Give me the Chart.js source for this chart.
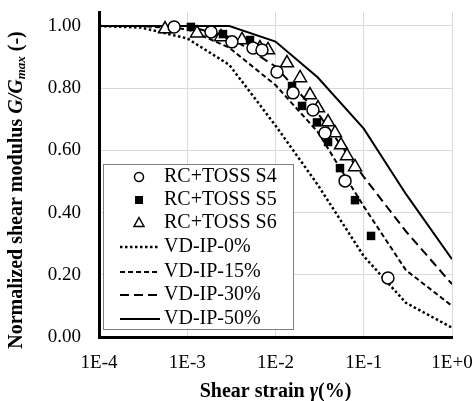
<!DOCTYPE html>
<html>
<head>
<meta charset="utf-8">
<script src="https://cdn.jsdelivr.net/npm/chart.js@4.4.0/dist/chart.umd.min.js"></script>
<style>
  html, body { margin: 0; padding: 0; background: #fff; }
  #wrap { width: 473px; height: 401px; position: relative; }
</style>
</head>
<body>
<div id="wrap"><canvas id="chart"></canvas></div>
<script>
// Vucetic-Dobry reference curves, strain in %
const strainVD = [0.0001, 0.0003, 0.001, 0.003, 0.01, 0.03, 0.1, 0.3, 1];
const vdIP0  = [1.00, 0.995, 0.96, 0.875, 0.68, 0.49, 0.26, 0.11, 0.03];
const vdIP15 = [1.00, 1.00, 0.99, 0.93, 0.81, 0.66, 0.42, 0.215, 0.10];
const vdIP30 = [1.00, 1.00, 1.00, 0.965, 0.87, 0.72, 0.515, 0.34, 0.17];
const vdIP50 = [1.00, 1.00, 1.00, 1.00, 0.95, 0.835, 0.67, 0.46, 0.25];

// RC + TOSS test results
const s4Strain = [0.00071, 0.00186, 0.00321, 0.00556, 0.00703, 0.0104, 0.0158, 0.0266, 0.0364, 0.0614, 0.188];
const s4G      = [0.997, 0.981, 0.949, 0.929, 0.923, 0.852, 0.785, 0.730, 0.656, 0.502, 0.190];
const s5Strain = [0.00110, 0.00254, 0.00514, 0.0154, 0.0200, 0.0295, 0.0394, 0.0538, 0.0796, 0.121];
const s5G      = [0.997, 0.974, 0.955, 0.807, 0.743, 0.690, 0.627, 0.543, 0.440, 0.325];
const s6Strain = [0.00056, 0.00129, 0.00241, 0.00417, 0.00667, 0.00822, 0.0135, 0.0190, 0.0246, 0.0303, 0.0394, 0.0472, 0.0552, 0.0646, 0.0796];
const s6G      = [0.990, 0.977, 0.965, 0.955, 0.929, 0.923, 0.881, 0.833, 0.778, 0.736, 0.691, 0.656, 0.617, 0.582, 0.547];

const xTickValues = [1e-4, 1e-3, 1e-2, 1e-1, 1];
const xTickLabels = ['1E-4', '1E-3', '1E-2', '1E-1', '1E+0'];
const yTickValues = [0, 0.2, 0.4, 0.6, 0.8, 1.0];

const SERIF = "'Liberation Serif', 'Times New Roman', serif";

function toPoints(xs, ys) {
    return xs.map((x, i) => ({ x: x, y: ys[i] }));
}

function markerSet(label, xs, ys, style, radius, fill) {
    return {
        label: label,
        data: toPoints(xs, ys),
        showLine: false,
        pointStyle: style,
        pointRadius: radius,
        pointBorderWidth: fill === '#000' ? 0 : 1.5,
        pointBorderColor: '#000',
        pointBackgroundColor: fill
    };
}

function curveSet(label, ys, dash, width) {
    return {
        label: label,
        data: toPoints(strainVD, ys),
        showLine: true,
        borderColor: '#000',
        borderWidth: width,
        borderDash: dash,
        pointRadius: 0,
        tension: 0,
        fill: false
    };
}

const datasets = [
    markerSet('RC+TOSS S4', s4Strain, s4G, 'circle', 6, '#fff'),
    markerSet('RC+TOSS S5', s5Strain, s5G, 'rect', 6, '#000'),
    markerSet('RC+TOSS S6', s6Strain, s6G, 'triangle', 7.5, '#fff'),
    curveSet('VD-IP-0%', vdIP0, [2.5, 2.5], 2.5),
    curveSet('VD-IP-15%', vdIP15, [5, 3], 2),
    curveSet('VD-IP-30%', vdIP30, [9, 5], 2),
    curveSet('VD-IP-50%', vdIP50, [], 2)
];

// draws a run of text pieces with different fonts, starting at x
function drawRich(ctx, parts, x, y) {
    parts.forEach(p => {
        ctx.font = p.font;
        ctx.fillText(p.text, x, y + (p.dy || 0));
        x += ctx.measureText(p.text).width;
    });
}

function richWidth(ctx, parts) {
    return parts.reduce((w, p) => {
        ctx.font = p.font;
        return w + ctx.measureText(p.text).width;
    }, 0);
}

const titlesAndLegend = {
    id: 'titlesAndLegend',
    afterDraw(chart) {
        const ctx = chart.ctx;
        const area = chart.chartArea;
        ctx.save();
        ctx.fillStyle = '#000';
        ctx.textBaseline = 'middle';
        ctx.textAlign = 'left';

        // x axis title
        const xParts = [
            { text: 'Shear strain ', font: 'bold 20px ' + SERIF },
            { text: 'γ', font: 'italic bold 20px ' + SERIF },
            { text: '(%)', font: 'bold 20px ' + SERIF }
        ];
        const xw = richWidth(ctx, xParts);
        drawRich(ctx, xParts, (area.left + area.right) / 2 - xw / 2, 392);

        // y axis title, rotated
        const yParts = [
            { text: 'Normalized shear modulus ', font: 'bold 20px ' + SERIF },
            { text: 'G/G', font: 'italic bold 20px ' + SERIF },
            { text: 'max', font: 'italic bold 13px ' + SERIF, dy: 5 },
            { text: ' (-)', font: 'bold 20px ' + SERIF }
        ];
        const yw = richWidth(ctx, yParts);
        ctx.save();
        ctx.translate(17, 190);
        ctx.rotate(-Math.PI / 2);
        drawRich(ctx, yParts, -yw / 2, 0);
        ctx.restore();

        // legend box
        const bx = 103, by = 164, bw = 190, bh = 165;
        ctx.fillStyle = '#fff';
        ctx.fillRect(bx, by, bw, bh);
        ctx.strokeStyle = '#7f7f7f';
        ctx.lineWidth = 1;
        ctx.strokeRect(bx + 0.5, by + 0.5, bw, bh);

        const rowY = [177, 200, 223, 247, 272, 295, 319];
        chart.data.datasets.forEach((ds, i) => {
            const y = rowY[i];
            ctx.strokeStyle = '#000';
            ctx.fillStyle = '#000';
            if (ds.showLine) {
                ctx.lineWidth = ds.borderWidth;
                ctx.setLineDash(ds.borderDash);
                ctx.beginPath();
                ctx.moveTo(120, y);
                ctx.lineTo(160, y);
                ctx.stroke();
                ctx.setLineDash([]);
            } else {
                const cx = 139;
                ctx.lineWidth = 1.5;
                ctx.beginPath();
                if (ds.pointStyle === 'circle') {
                    ctx.arc(cx, y, 4.5, 0, Math.PI * 2);
                    ctx.stroke();
                } else if (ds.pointStyle === 'rect') {
                    ctx.fillRect(cx - 4, y - 4, 8, 8);
                } else {
                    ctx.moveTo(cx, y - 5.5);
                    ctx.lineTo(cx + 5, y + 3.5);
                    ctx.lineTo(cx - 5, y + 3.5);
                    ctx.closePath();
                    ctx.stroke();
                }
            }
            ctx.fillStyle = '#000';
            ctx.font = '20px ' + SERIF;
            ctx.fillText(ds.label, 164, y);
        });
        ctx.restore();
    }
};

new Chart(document.getElementById('chart'), {
    type: 'scatter',
    data: { datasets: datasets },
    options: {
        responsive: true,
        maintainAspectRatio: false,
        animation: false,
        devicePixelRatio: 1,
        events: [],
        layout: { autoPadding: false, padding: { top: 12, right: 21, left: 0, bottom: 0 } },
        scales: {
            x: {
                type: 'logarithmic',
                min: 1e-4,
                max: 1,
                afterBuildTicks: scale => { scale.ticks = xTickValues.map(v => ({ value: v })); },
                afterFit: scale => {
                    scale.height = 64;
                    scale.paddingLeft = 0;
                    scale.paddingRight = 0;
                },
                grid: { color: '#d9d9d9', lineWidth: 1, drawTicks: false },
                border: { color: '#000', width: 3 },
                ticks: {
                    padding: 15,
                    color: '#000',
                    font: { family: SERIF, size: 19 },
                    maxRotation: 0,
                    autoSkip: false,
                    callback: v => {
                        const i = xTickValues.findIndex(t => Math.abs(Math.log10(t) - Math.log10(v)) < 1e-6);
                        return i >= 0 ? xTickLabels[i] : '';
                    }
                }
            },
            y: {
                min: 0,
                max: 1.045,
                afterBuildTicks: scale => { scale.ticks = yTickValues.map(v => ({ value: v })); },
                afterFit: scale => {
                    scale.width = 99;
                    scale.paddingTop = 0;
                    scale.paddingBottom = 0;
                },
                grid: { color: '#d9d9d9', lineWidth: 1, drawTicks: false },
                border: { color: '#000', width: 3 },
                ticks: {
                    padding: 18,
                    color: '#000',
                    font: { family: SERIF, size: 19 },
                    callback: v => v.toFixed(2)
                }
            }
        },
        plugins: {
            legend: { display: false },
            tooltip: { enabled: false }
        }
    },
    plugins: [titlesAndLegend]
});
</script>
</body>
</html>
